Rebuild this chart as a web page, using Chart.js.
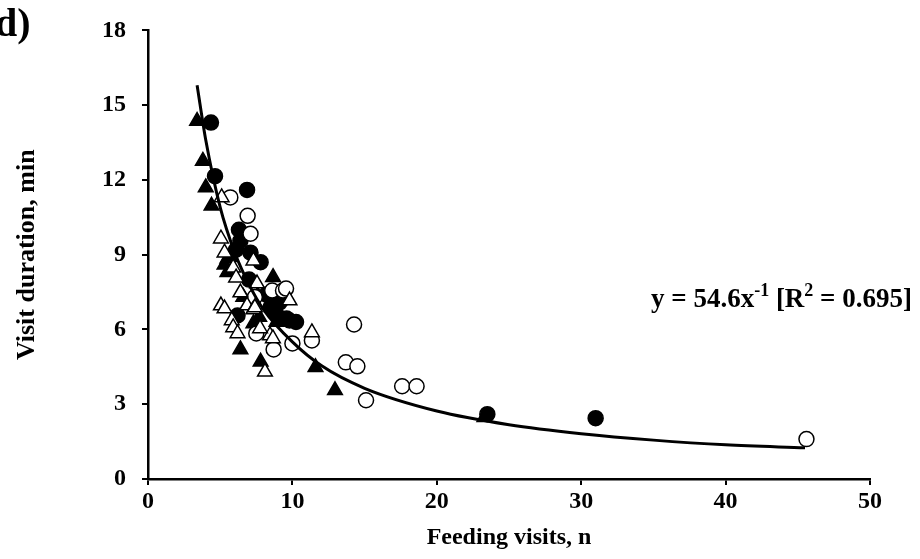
<!DOCTYPE html>
<html>
<head>
<meta charset="utf-8">
<script src="https://cdn.jsdelivr.net/npm/chart.js@4/dist/chart.umd.min.js"></script>
<style>
  html, body { margin: 0; padding: 0; background: #fff; }
  #chart { display: block; }
</style>
</head>
<body>
<canvas id="chart" width="920" height="559"></canvas>
<script>
// filled triangles
const filledTriX = [3.4, 3.8, 4.0, 4.4, 5.3, 5.5, 5.7, 5.5, 6.4, 7.8, 11.6, 12.95, 23.3, 7.3, 8.66, 7.6, 6.6, 7.7, 8.4, 8.9];
const filledTriY = [14.36, 12.76, 11.7, 10.96, 8.6, 8.3, 8.9, 8.84, 5.2, 4.7, 4.48, 3.56, 2.48, 6.24, 8.1, 7.36, 7.3, 6.5, 7.0, 6.3];
// filled circles
const filledCircX = [4.36, 4.64, 6.86, 6.3, 6.4, 6.1, 7.1, 7.8, 6.2, 9.1, 8.5, 9.8, 10.25, 8.9, 23.5, 31.0, 7.0, 8.2, 9.35, 9.6];
const filledCircY = [14.3, 12.15, 11.6, 10.0, 9.56, 9.2, 9.08, 8.7, 6.56, 7.08, 6.9, 6.36, 6.3, 6.6, 2.6, 2.44, 8.0, 7.4, 7.24, 6.44];
// open triangles
const openTriX = [5.1, 5.05, 5.3, 7.3, 5.9, 6.1, 7.55, 5.05, 5.3, 6.86, 7.3, 5.8, 5.9, 8.45, 8.65, 9.8, 11.35, 8.1, 6.4, 7.4, 7.76, 6.2];
const openTriY = [11.3, 9.64, 9.08, 8.76, 8.48, 8.08, 7.84, 6.96, 6.84, 6.96, 6.8, 6.36, 6.08, 5.76, 5.64, 7.16, 5.88, 4.3, 7.48, 6.88, 6.04, 5.84];
// open circles
const openCircX = [5.7, 6.9, 7.1, 8.6, 9.35, 7.4, 7.5, 8.7, 10.0, 11.35, 13.7, 14.27, 14.5, 15.1, 17.6, 18.6, 45.6, 9.56];
const openCircY = [11.3, 10.56, 9.84, 7.56, 7.56, 7.3, 5.84, 5.2, 5.44, 5.56, 4.68, 6.2, 4.52, 3.16, 3.72, 3.72, 1.6, 7.64];
// fitted curve y = 54.6x^-1
const fitX = [3.4, 4, 5, 6, 7, 8, 10, 12, 15, 20, 25, 30, 35, 40, 45.5];
const fitY = [15.8, 13.6, 10.9, 9.1, 7.8, 6.8, 5.5, 4.55, 3.64, 2.73, 2.18, 1.82, 1.56, 1.37, 1.25];

const xTicks = [0, 10, 20, 30, 40, 50];
const yTicks = [0, 3, 6, 9, 12, 15, 18];

const FONT = "'Liberation Serif', 'Times New Roman', serif";
const toPoints = (xs, ys) => xs.map((x, i) => ({ x, y: ys[i] }));

const pointSet = (xs, ys, style, filled) => ({
  data: toPoints(xs, ys),
  pointStyle: style,
  pointRadius: style === 'triangle' ? 8.5 : 7.5,
  pointBackgroundColor: filled ? '#000' : '#fff',
  pointBorderColor: '#000',
  pointBorderWidth: 1.5,
  showLine: false,
});

const extraText = {
  id: 'extraText',
  afterDraw: (chart) => {
    const ctx = chart.ctx;
    ctx.save();
    ctx.fillStyle = '#000';
    ctx.textBaseline = 'alphabetic';
    ctx.textAlign = 'left';
    // panel letter
    ctx.font = `bold 40px ${FONT}`;
    ctx.fillText('d)', -5, 36);
    // equation with superscripts
    const parts = [
      ['y = 54.6x', false], ['-1', true], [' [R', false], ['2', true], [' = 0.695]', false],
    ];
    let x = 651;
    const base = 307;
    parts.forEach(([t, sup]) => {
      ctx.font = sup ? `bold 18px ${FONT}` : `bold 27px ${FONT}`;
      ctx.fillText(t, x, sup ? base - 11 : base);
      x += ctx.measureText(t).width;
    });
    ctx.restore();
  },
};

const ctx = document.getElementById('chart').getContext('2d');
new Chart(ctx, {
  type: 'scatter',
  data: {
    datasets: [
      {
        type: 'line',
        data: toPoints(fitX, fitY),
        borderColor: '#000',
        borderWidth: 3,
        pointRadius: 0,
        cubicInterpolationMode: 'monotone',
        fill: false,
      },
      pointSet(openTriX, openTriY, 'triangle', false),
      pointSet(openCircX, openCircY, 'circle', false),
      pointSet(filledTriX, filledTriY, 'triangle', true),
      pointSet(filledCircX, filledCircY, 'circle', true),
    ],
  },
  options: {
    responsive: false,
    animation: false,
    layout: { padding: { left: 0, top: 29, right: 50, bottom: 0 } },
    plugins: { legend: { display: false }, tooltip: { enabled: false } },
    scales: {
      x: {
        type: 'linear',
        min: 0,
        max: 50,
        afterBuildTicks: (scale) => { scale.ticks = xTicks.map((v) => ({ value: v })); },
        afterFit: (scale) => { scale.height = 80; },
        grid: { drawOnChartArea: false, drawTicks: true, tickLength: 6, color: '#000', lineWidth: 2 },
        border: { color: '#000', width: 2.5 },
        ticks: { color: '#000', padding: 2, font: { family: FONT, size: 24, weight: 'bold' } },
        title: {
          display: true,
          text: 'Feeding visits, n',
          color: '#000',
          padding: { top: 0, bottom: 7 },
          font: { family: FONT, size: 24, weight: 'bold' },
        },
      },
      y: {
        type: 'linear',
        min: 0,
        max: 18,
        afterBuildTicks: (scale) => { scale.ticks = yTicks.map((v) => ({ value: v })); },
        afterFit: (scale) => { scale.width = 148; },
        grid: { drawOnChartArea: false, drawTicks: true, tickLength: 6, color: '#000', lineWidth: 2 },
        border: { color: '#000', width: 2.5 },
        ticks: { color: '#000', padding: 16, font: { family: FONT, size: 24, weight: 'bold' } },
        title: {
          display: true,
          text: 'Visit duration, min',
          color: '#000',
          padding: { top: 12, bottom: 0 },
          font: { family: FONT, size: 26, weight: 'bold' },
        },
      },
    },
  },
  plugins: [extraText],
});
</script>
</body>
</html>
